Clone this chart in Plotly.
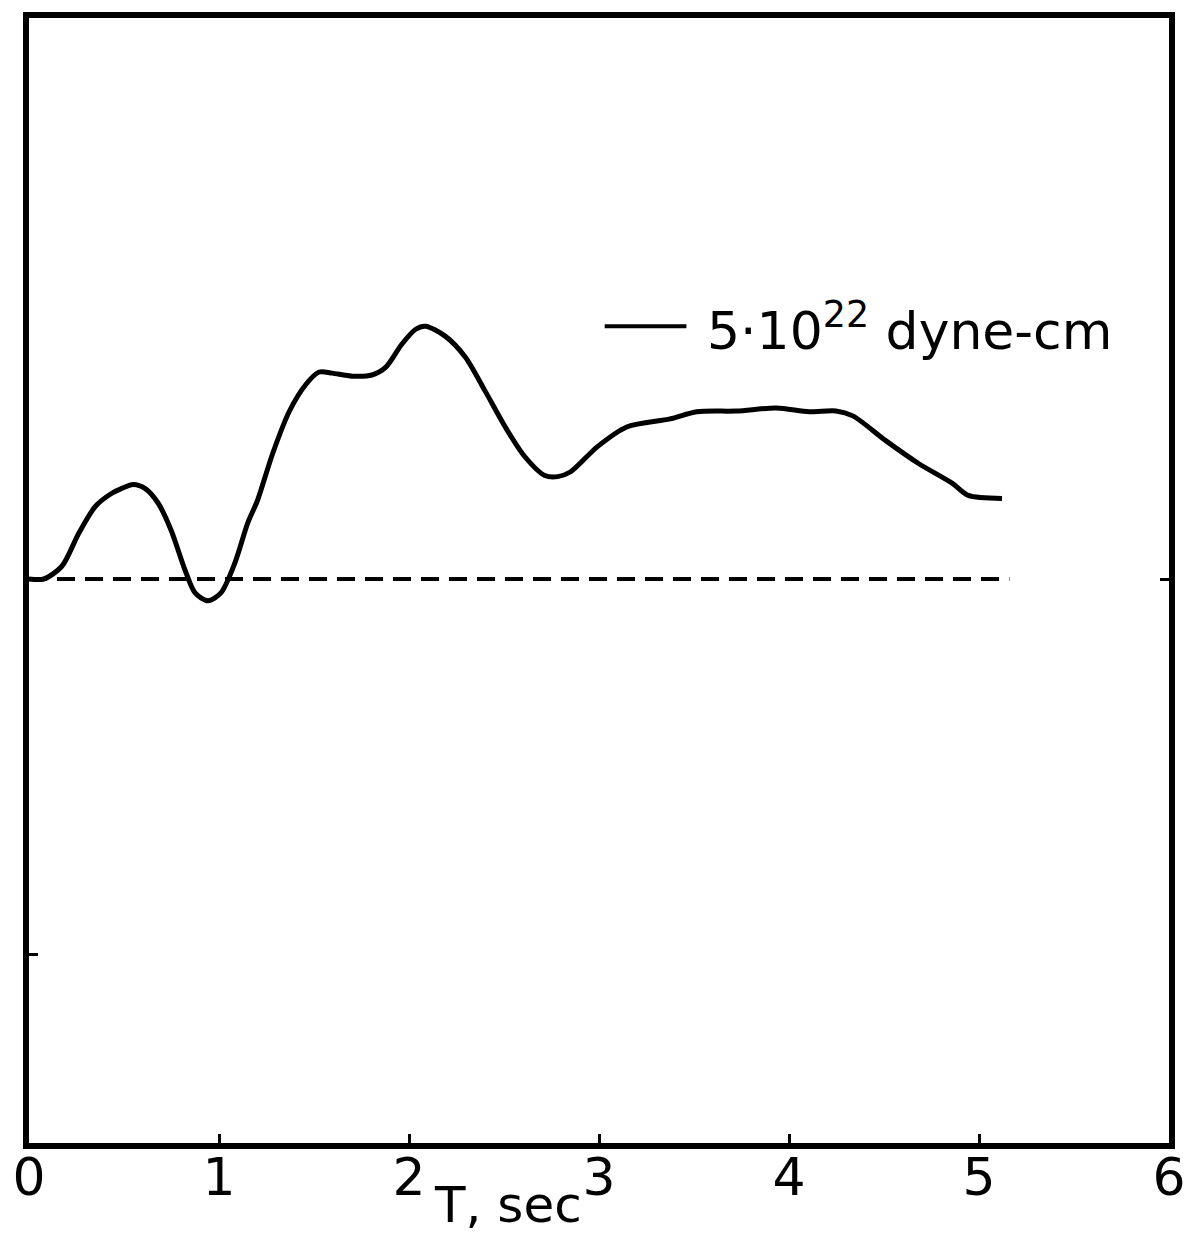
import plotly.graph_objects as go

# Time (s) and moment-rate amplitude (relative units, baseline = 0)
t_sec = [0.000, 0.078, 0.173, 0.262, 0.350, 0.434, 0.486, 0.549, 0.612, 0.680,
         0.748, 0.821, 0.874, 0.942, 1.010, 1.083, 1.151, 1.203, 1.282, 1.371,
         1.459, 1.527, 1.595, 1.700, 1.805, 1.878, 1.962, 2.035, 2.087, 2.192,
         2.296, 2.401, 2.506, 2.610, 2.715, 2.783, 2.851, 2.992, 3.149, 3.374,
         3.515, 3.724, 3.934, 4.106, 4.247, 4.336, 4.509, 4.682, 4.860, 4.943,
         5.121]
amplitude = [0.000, 0.000, 0.034, 0.122, 0.194, 0.228, 0.241, 0.252, 0.241, 0.202,
             0.130, 0.024, -0.037, -0.058, -0.037, 0.042, 0.149, 0.210, 0.334, 0.448,
             0.520, 0.552, 0.549, 0.541, 0.544, 0.565, 0.626, 0.666, 0.674, 0.647,
             0.592, 0.501, 0.406, 0.326, 0.276, 0.273, 0.286, 0.353, 0.406, 0.427,
             0.446, 0.448, 0.456, 0.446, 0.448, 0.435, 0.369, 0.308, 0.255, 0.223,
             0.215]

baseline_t = [0.0, 5.16]
baseline_v = [0.0, 0.0]

x_ticks = [0, 1, 2, 3, 4, 5, 6]
x_tick_text = ["0", "1", "2", "3", "4", "5", "6"]
legend_label = "5·10<sup>22</sup> dyne-cm"
x_title = "T, sec"

FONT = "DejaVu Sans"

fig = go.Figure()
fig.add_trace(go.Scatter(x=baseline_t, y=baseline_v, mode="lines",
                         line=dict(color="black", width=4, dash="18px,10px"),
                         showlegend=False, hoverinfo="skip"))
fig.add_trace(go.Scatter(x=t_sec, y=amplitude, mode="lines",
                         line=dict(color="black", width=5, shape="spline", smoothing=0.8),
                         name=legend_label, showlegend=False))

# Legend drawn as line + text
fig.add_shape(type="line", xref="x", yref="y", x0=3.03, x1=3.46, y0=0.674, y1=0.674,
              line=dict(color="black", width=4))
fig.add_annotation(x=3.56, y=0.672, xref="x", yref="y", text=legend_label,
                   showarrow=False, xanchor="left", yanchor="middle",
                   font=dict(family=FONT, size=52, color="black"))

fig.add_annotation(x=2.52, y=-0.055, xref="x", yref="paper", text=x_title,
                   showarrow=False, xanchor="center", yanchor="middle",
                   font=dict(family=FONT, size=50, color="black"))

fig.update_layout(
    width=1198, height=1235,
    margin=dict(l=28, r=23, t=12, b=92),
    paper_bgcolor="white", plot_bgcolor="white",
    showlegend=False,
    xaxis=dict(range=[0, 6], tickvals=x_ticks, ticktext=x_tick_text,
               ticks="inside", ticklen=9, tickwidth=3, tickcolor="black",
               ticklabelstandoff=-16,
               showline=True, linewidth=6, linecolor="black", mirror=True,
               showgrid=False, zeroline=False,
               tickfont=dict(family=FONT, size=52, color="black")),
    yaxis=dict(range=[-1.504, 1.496], tickvals=[-1], ticks="inside", ticklen=9,
               tickwidth=3, tickcolor="black", showticklabels=False,
               showline=True, linewidth=6, linecolor="black", mirror=True,
               showgrid=False, zeroline=False),
    yaxis2=dict(range=[-1.504, 1.496], overlaying="y", side="right",
                tickvals=[0], ticks="inside", ticklen=9, tickwidth=3, tickcolor="black",
                showticklabels=False, showgrid=False, zeroline=False, showline=False),
)
fig.add_trace(go.Scatter(x=[None], y=[None], yaxis="y2", showlegend=False, hoverinfo="skip"))

fig.write_html("out.html")
